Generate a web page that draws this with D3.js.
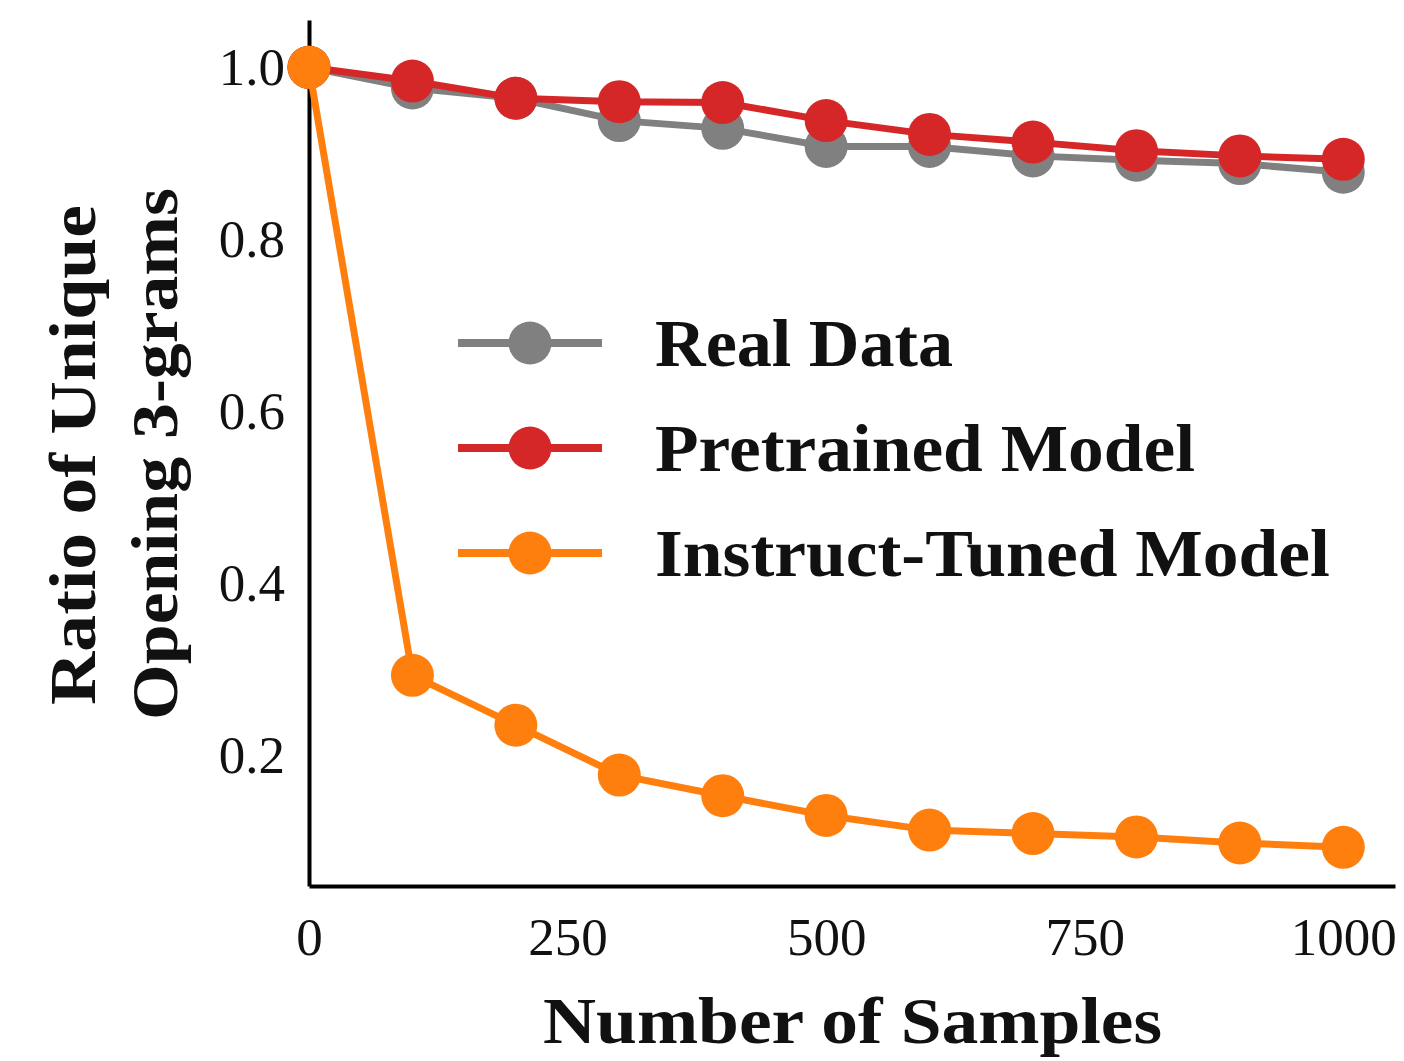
<!DOCTYPE html>
<html>
<head>
<meta charset="utf-8">
<script src="https://cdn.jsdelivr.net/npm/d3@7"></script>
<style>
  body { margin: 0; background: #fff; }
  text { font-family: "Liberation Serif", "DejaVu Serif", serif; }
</style>
</head>
<body>
<div id="chart"></div>
<script>
let samples = [0, 100, 200, 300, 400, 500, 600, 700, 800, 900, 1000];
let realData = [1.0, 0.976, 0.964, 0.938, 0.929, 0.908, 0.908, 0.897, 0.892, 0.888, 0.878];
let pretrained = [1.0, 0.984, 0.964, 0.960, 0.959, 0.938, 0.922, 0.913, 0.903, 0.897, 0.893];
let instruct = [1.0, 0.293, 0.235, 0.177, 0.153, 0.130, 0.113, 0.109, 0.105, 0.098, 0.093];
let seriesNames = ['Real Data', 'Pretrained Model', 'Instruct-Tuned Model'];
let seriesColors = ['#808080', '#d62728', '#ff7f0e'];
let xTicks = [0, 250, 500, 750, 1000];
let yTicks = [0.2, 0.4, 0.6, 0.8, 1.0];

let width = 1404, height = 1061;
let margin = {left: 309, right: 9, top: 20, bottom: 175};

let svg = d3.select('#chart').append('svg')
  .attr('width', width).attr('height', height);

let x = d3.scaleLinear().domain([0, 1050]).range([margin.left, width - margin.right]);
let y = d3.scaleLinear().domain([0.048, 1.055]).range([height - margin.bottom, margin.top]);

// axes
let xAxis = svg.append('g')
  .attr('transform', 'translate(0,' + (height - margin.bottom) + ')')
  .call(d3.axisBottom(x).tickValues(xTicks).tickSize(0).tickPadding(31).tickFormat(d3.format('d')));
let yAxis = svg.append('g')
  .attr('transform', 'translate(' + margin.left + ',0)')
  .call(d3.axisLeft(y).tickValues(yTicks).tickSize(0).tickPadding(24).tickFormat(d3.format('.1f')));

[xAxis, yAxis].forEach(function(a) {
  a.select('.domain').attr('stroke', '#000').attr('stroke-width', 4);
  a.selectAll('text').attr('font-size', 53).attr('fill', '#111')
    .style('font-family', '"Liberation Serif", "DejaVu Serif", serif');
});
xAxis.selectAll('text').attr('dy', '0.71em');

// lines
let series = [realData, pretrained, instruct];
let line = d3.line()
  .x(function(d, i) { return x(samples[i]); })
  .y(function(d) { return y(d); });

series.forEach(function(vals, k) {
  let g = svg.append('g');
  g.append('path')
    .datum(vals)
    .attr('d', line)
    .attr('fill', 'none')
    .attr('stroke', seriesColors[k])
    .attr('stroke-width', 7);
  g.selectAll('circle')
    .data(vals)
    .enter().append('circle')
    .attr('cx', function(d, i) { return x(samples[i]); })
    .attr('cy', function(d) { return y(d); })
    .attr('r', 21.5)
    .attr('fill', seriesColors[k]);
});

// legend
let legendWidths = [298, 540, 675];
let legend = svg.append('g');
seriesNames.forEach(function(name, k) {
  let ly = 343 + k * 105;
  legend.append('line')
    .attr('x1', 458).attr('x2', 602)
    .attr('y1', ly).attr('y2', ly)
    .attr('stroke', seriesColors[k]).attr('stroke-width', 8);
  legend.append('circle')
    .attr('cx', 530).attr('cy', ly).attr('r', 21.5)
    .attr('fill', seriesColors[k]);
  legend.append('text')
    .attr('x', 655).attr('y', ly + 23)
    .attr('font-size', 67).attr('font-weight', 'bold')
    .attr('textLength', legendWidths[k]).attr('lengthAdjust', 'spacingAndGlyphs')
    .attr('fill', '#111')
    .text(name);
});

// axis titles
svg.append('text')
  .attr('x', 543).attr('y', 1043)
  .attr('font-size', 66).attr('font-weight', 'bold').attr('fill', '#111')
  .attr('textLength', 619).attr('lengthAdjust', 'spacingAndGlyphs')
  .text('Number of Samples');

svg.append('text')
  .attr('transform', 'translate(95,705) rotate(-90)')
  .attr('font-size', 66).attr('font-weight', 'bold').attr('fill', '#111')
  .attr('textLength', 500).attr('lengthAdjust', 'spacingAndGlyphs')
  .text('Ratio of Unique');
svg.append('text')
  .attr('transform', 'translate(177,720) rotate(-90)')
  .attr('font-size', 66).attr('font-weight', 'bold').attr('fill', '#111')
  .attr('textLength', 532).attr('lengthAdjust', 'spacingAndGlyphs')
  .text('Opening 3-grams');
</script>
</body>
</html>
